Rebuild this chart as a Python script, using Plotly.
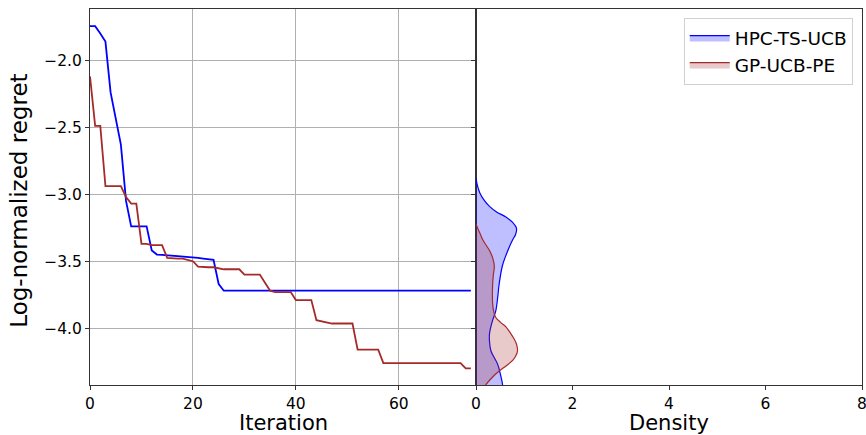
import plotly.graph_objects as go

iterations = list(range(75))

hpc_ts_ucb = [-1.745, -1.745, -1.80, -1.86, -2.24, -2.44, -2.63, -3.05, -3.24, -3.24,
              -3.24, -3.24, -3.42, -3.45, -3.452, -3.455, -3.457, -3.46, -3.462, -3.465,
              -3.47, -3.475, -3.48, -3.485, -3.49, -3.67, -3.72] + [-3.72] * 48

gp_ucb_pe = [-2.12, -2.49, -2.49, -2.94, -2.94, -2.94, -2.94, -3.02, -3.07, -3.07,
             -3.37, -3.37, -3.38, -3.38, -3.38, -3.475, -3.48, -3.48, -3.48, -3.49,
             -3.50, -3.54, -3.545, -3.545, -3.545, -3.555, -3.56, -3.56, -3.56, -3.56,
             -3.60, -3.60, -3.60, -3.60, -3.66, -3.72, -3.73, -3.73, -3.73, -3.73,
             -3.79, -3.79, -3.79, -3.79, -3.94, -3.95, -3.96, -3.965, -3.965, -3.965,
             -3.965, -3.965, -4.16, -4.16, -4.16, -4.16, -4.16, -4.26, -4.26, -4.26,
             -4.26, -4.26, -4.26, -4.26, -4.26, -4.26, -4.26, -4.26, -4.26, -4.26,
             -4.26, -4.26, -4.26, -4.30, -4.30]

hpc_density_y = [-2.88, -2.92, -2.96, -2.99, -3.04, -3.09, -3.13, -3.17, -3.21, -3.255,
                 -3.30, -3.34, -3.42, -3.53, -3.67, -3.77, -3.87, -3.94, -4.04, -4.10,
                 -4.17, -4.27, -4.35, -4.42, -4.50]
hpc_density = [0.0, 0.02, 0.05, 0.08, 0.16, 0.28, 0.42, 0.62, 0.76, 0.84,
               0.82, 0.76, 0.66, 0.55, 0.48, 0.45, 0.41, 0.345, 0.28, 0.28,
               0.31, 0.45, 0.51, 0.55, 0.56]

gp_density_y = [-3.22, -3.24, -3.29, -3.34, -3.42, -3.48, -3.54, -3.60, -3.67, -3.75,
                -3.82, -3.88, -3.92, -3.96, -3.99, -4.04, -4.08, -4.12, -4.17, -4.21,
                -4.24, -4.28, -4.32, -4.37, -4.42, -4.48]
gp_density = [0.0, 0.02, 0.08, 0.14, 0.28, 0.35, 0.38, 0.36, 0.345, 0.34,
              0.345, 0.37, 0.41, 0.52, 0.62, 0.72, 0.79, 0.84, 0.86, 0.82,
              0.76, 0.63, 0.48, 0.33, 0.21, 0.10]

y_ticks = [-2.0, -2.5, -3.0, -3.5, -4.0]
x_ticks_iter = [0, 20, 40, 60]
x_ticks_dens = [0, 2, 4, 6, 8]

x_title_left = "Iteration"
x_title_right = "Density"
y_title = "Log-normalized regret"

BLUE = "#0000ff"
RED = "#a52a2a"
FONT = "DejaVu Sans"
FRAME = "#333333"

fig = go.Figure()
fig.add_trace(go.Scatter(x=iterations, y=hpc_ts_ucb, mode="lines",
                         line=dict(color=BLUE, width=1.8), showlegend=False,
                         xaxis="x", yaxis="y"))
fig.add_trace(go.Scatter(x=iterations, y=gp_ucb_pe, mode="lines",
                         line=dict(color=RED, width=1.8), showlegend=False,
                         xaxis="x", yaxis="y"))
fig.add_trace(go.Scatter(x=hpc_density, y=hpc_density_y, mode="lines",
                         line=dict(color=BLUE, width=1.2, shape="spline"),
                         fill="tozerox", fillcolor="rgba(0,0,255,0.25)",
                         name="HPC-TS-UCB", xaxis="x2", yaxis="y2"))
fig.add_trace(go.Scatter(x=gp_density, y=gp_density_y, mode="lines",
                         line=dict(color=RED, width=1.2, shape="spline"),
                         fill="tozerox", fillcolor="rgba(165,42,42,0.25)",
                         name="GP-UCB-PE", xaxis="x2", yaxis="y2"))

yr = [-4.424, -1.617]
axis_common = dict(showline=True, linecolor=FRAME, linewidth=1, mirror=True,
                   ticks="outside", ticklen=4, tickcolor=FRAME, tickwidth=1,
                   tickfont=dict(family=FONT, size=15.5, color="black"), zeroline=False,
                   automargin=False)

title_font = dict(family=FONT, size=21, color="black")

fig.update_layout(
    width=866, height=435,
    margin=dict(l=90, r=4, t=9, b=50, autoexpand=False),
    plot_bgcolor="white", paper_bgcolor="white",
    font=dict(family=FONT, color="black"),
    xaxis=dict(domain=[0, 0.5], range=[0, 75], tickvals=x_ticks_iter,
               showgrid=True, gridcolor="#b0b0b0", gridwidth=1,
               **axis_common),
    yaxis=dict(range=yr, tickvals=y_ticks, tickformat=".1f",
               showgrid=True, gridcolor="#b0b0b0", gridwidth=1,
               **axis_common),
    xaxis2=dict(domain=[0.5, 1], range=[0, 8], tickvals=x_ticks_dens,
                showgrid=False, anchor="y2", ticklabeloverflow="allow",
                **axis_common),
    yaxis2=dict(range=yr, tickvals=y_ticks, showticklabels=False, showgrid=False,
                anchor="x2", **axis_common),
    legend=dict(x=0.988, xanchor="right", y=0.976, yanchor="top",
                bordercolor="#d0d0d0", borderwidth=1, bgcolor="white",
                font=dict(family=FONT, size=18.5), tracegroupgap=0, itemwidth=40),
    annotations=[
        dict(text=x_title_left, xref="paper", yref="paper", x=0.25, y=-0.1011,
             xanchor="center", yanchor="middle", showarrow=False, borderpad=0,
             font=title_font),
        dict(text=x_title_right, xref="paper", yref="paper", x=0.75, y=-0.1011,
             xanchor="center", yanchor="middle", showarrow=False, borderpad=0,
             font=title_font),
        dict(text=y_title, xref="paper", yref="paper", x=-0.092, y=0.49,
             xanchor="center", yanchor="middle", textangle=-90, showarrow=False,
             font=dict(family=FONT, size=23, color="black")),
    ],
)

fig.write_html("out.html")
